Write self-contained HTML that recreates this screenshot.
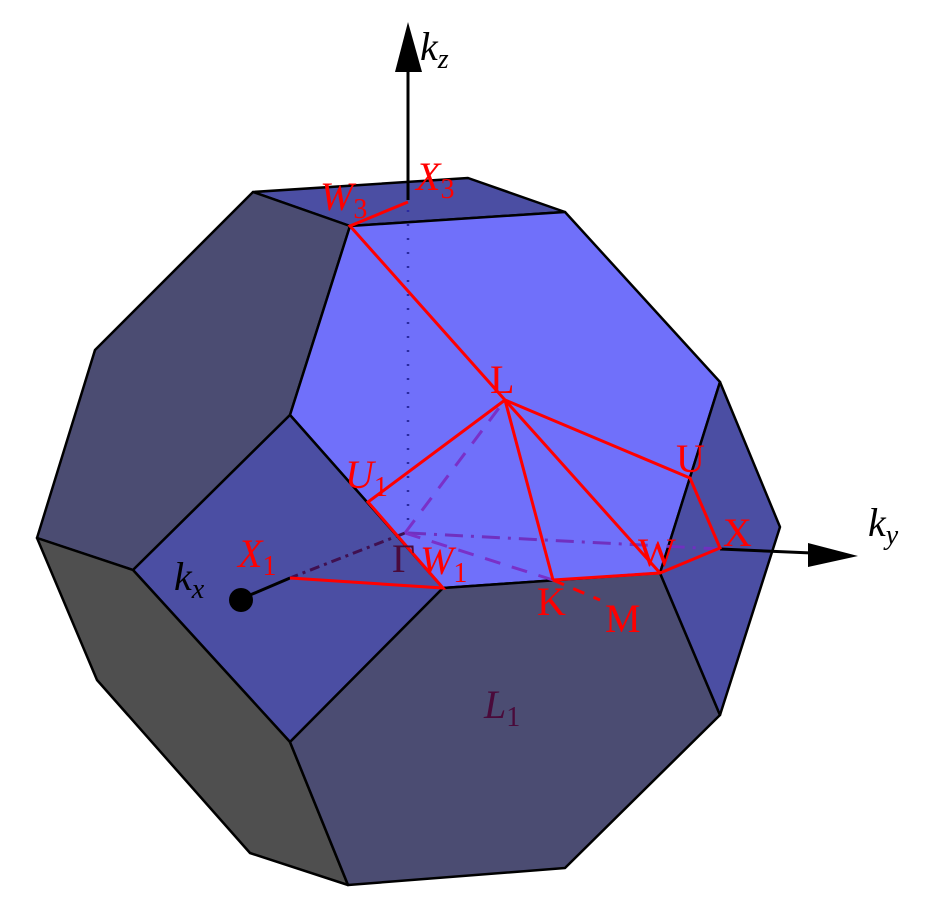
<!DOCTYPE html>
<html><head><style>html,body{margin:0;padding:0;background:#fff}svg{display:block}</style></head><body>
<svg width="940" height="913" viewBox="0 0 940 913" xmlns="http://www.w3.org/2000/svg">
<g stroke="#000" stroke-width="2.5" stroke-linejoin="round">
<polygon points="253,192 468,178 565,212 350,226" fill="#4b4ea3"/>
<polygon points="253,192 350,226 290,415 133,570 37,538 95,350" fill="#4b4c72"/>
<polygon points="350,226 565,212 720,382 660,573 443,588 290,415" fill="#7070fa"/>
<polygon points="133,570 290,415 443,588 290,742" fill="#4b4ea3"/>
<polygon points="37,538 133,570 290,742 348,885 250,853 97,680" fill="#4f4f4f"/>
<polygon points="290,742 443,588 660,573 720,715 565,868 348,885" fill="#4b4c72"/>
<polygon points="720,382 780,527 720,715 660,573" fill="#4b4ea3"/>
</g>
<line x1="408" y1="200" x2="408" y2="70" stroke="#000" stroke-width="3"/>
<polygon points="408,22 395,72 422,72" fill="#000"/>
<line x1="408" y1="210" x2="408" y2="530" stroke="#2a2aa0" stroke-width="2.5" stroke-dasharray="2,12"/>
<line x1="408" y1="533" x2="720" y2="549" stroke="#7030c0" stroke-width="3" stroke-dasharray="18,8,3,8"/>
<line x1="720" y1="549" x2="812" y2="553" stroke="#000" stroke-width="3"/>
<polygon points="858,556 808,543 808,567" fill="#000"/>
<line x1="405" y1="533" x2="290" y2="578" stroke="#401050" stroke-width="3" stroke-dasharray="10,5,3,5"/>
<line x1="290" y1="578" x2="243" y2="598" stroke="#000" stroke-width="3"/>
<circle cx="241" cy="600" r="12" fill="#000"/>
<g stroke="#7a30c8" stroke-width="3" stroke-dasharray="16,12" fill="none">
<line x1="405" y1="533" x2="505" y2="400"/>
<line x1="405" y1="533" x2="553" y2="580"/>
</g>
<g stroke="#f00" stroke-width="3" fill="none">
<polyline points="408,202 350,226 505,400 368,502 443,588 290,578"/>
<line x1="505" y1="400" x2="553" y2="580"/>
<line x1="505" y1="400" x2="660" y2="573"/>
<polyline points="505,400 690,478 720,548 660,573 553,580"/>
<line x1="553" y1="580" x2="600" y2="600" stroke-dasharray="12,10"/>
</g>
<g font-family="Liberation Serif, serif" font-size="40" fill="#f00">
<text x="416" y="190" font-style="italic">X<tspan font-size="28" dy="8" font-style="normal">3</tspan></text>
<text x="320" y="210" font-style="italic">W<tspan font-size="28" dy="8" font-style="normal">3</tspan></text>
<text x="490" y="393">L</text>
<text x="345" y="488" font-style="italic">U<tspan font-size="28" dy="8" font-style="normal">1</tspan></text>
<text x="676" y="472">U</text>
<text x="723" y="546">X</text>
<text x="638" y="566">W</text>
<text x="420" y="574" font-style="italic">W<tspan font-size="28" dy="8" font-style="normal">1</tspan></text>
<text x="238" y="567" font-style="italic">X<tspan font-size="28" dy="8" font-style="normal">1</tspan></text>
<text x="537" y="615">K</text>
<text x="605" y="632">M</text>
<text x="392" y="572" fill="#4a0a3a">Γ</text>
<text x="484" y="718" font-style="italic" fill="#4a0a3a">L<tspan font-size="28" dy="8" font-style="normal">1</tspan></text>
</g>
<g font-family="Liberation Serif, serif" font-size="40" font-style="italic" fill="#000">
<text x="420" y="60">k<tspan font-size="28" dy="8">z</tspan></text>
<text x="868" y="536">k<tspan font-size="28" dy="8">y</tspan></text>
<text x="174" y="590">k<tspan font-size="28" dy="8">x</tspan></text>
</g>
</svg>
</body></html>
